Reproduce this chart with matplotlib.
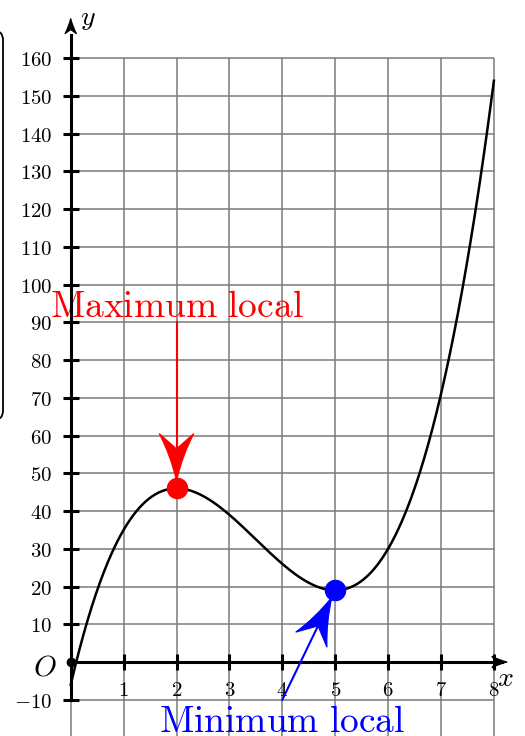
"""
Local maximum / minimum of a cubic, drawn on a squared grid
"""
import numpy as np
import matplotlib
matplotlib.use("Agg")
import matplotlib.pyplot as plt
from matplotlib.path import Path
from matplotlib.patches import PathPatch, FancyBboxPatch
from matplotlib.transforms import Affine2D

plt.rcParams["mathtext.fontset"] = "cm"

# values
CURVE_X = [0, 1, 2, 3, 4, 5, 6, 7, 8]
CURVE_Y = [-6, 35, 46, 39, 26, 19, 30, 71, 154]
X_TICKS = [1, 2, 3, 4, 5, 6, 7, 8]
Y_TICKS = [-10, 10, 20, 30, 40, 50, 60, 70, 80, 90, 100, 110, 120, 130,
           140, 150, 160]
GRID_X = [0, 1, 2, 3, 4, 5, 6, 7, 8]
GRID_Y = [-10, 0, 10, 20, 30, 40, 50, 60, 70, 80, 90, 100, 110, 120, 130,
          140, 150, 160]
MAX_POINT = (2, 46)
MIN_POINT = (5, 19)
MAX_LABEL = "Maximum local"
MIN_LABEL = "Minimum local"
MAX_FROM = (2, 90)
MIN_FROM = (4, -10)

GRID_COLOR = "#7a7a7a"


def stealth(ax, start, tip, color, length, half, notch, back=0.0):
    """draw a LaTeX stealth-like arrow head (sizes in points) at tip"""
    fig = ax.figure
    p0 = ax.transData.transform(start)
    p1 = ax.transData.transform(tip)
    ang = np.arctan2(p1[1] - p0[1], p1[0] - p0[0])
    verts = [(0, 0), (-0.55 * length, 0.35 * half), (-length, half),
             (-notch, 0), (-length, -half), (-0.55 * length, -0.35 * half),
             (0, 0), (0, 0)]
    codes = [Path.MOVETO, Path.CURVE3, Path.CURVE3, Path.LINETO,
             Path.LINETO, Path.CURVE3, Path.CURVE3, Path.CLOSEPOLY]
    trans = (Affine2D().translate(-back, 0).scale(fig.dpi / 72)
             .rotate(ang).translate(*p1))
    head = PathPatch(Path(verts, codes), transform=trans, facecolor=color,
                     edgecolor=color, lw=0.8, clip_on=False, zorder=4)
    ax.add_artist(head)


fig = plt.figure(figsize=(5.25, 7.36), dpi=100)
ax = fig.add_axes([0, 0, 1, 1])
ax.set_xlim(-1.337, 8.588)
ax.set_ylim(-19.6, 175.4)

# grid
ax.vlines(GRID_X, -25, GRID_Y[-1], color=GRID_COLOR, lw=1.1, zorder=1)
ax.hlines(GRID_Y, GRID_X[0], GRID_X[-1], color=GRID_COLOR, lw=1.1, zorder=1)

# axes through the origin
for side in ["top", "right"]:
    ax.spines[side].set_visible(False)
ax.spines["left"].set_position(("data", 0))
ax.spines["bottom"].set_position(("data", 0))
ax.spines["left"].set_bounds(-10, 166)
ax.spines["bottom"].set_bounds(0, 8.15)
for side in ["left", "bottom"]:
    ax.spines[side].set_linewidth(2.2)
    ax.spines[side].set_zorder(3)

ax.set_xticks(X_TICKS)
ax.set_yticks(Y_TICKS)
ax.set_xticklabels(["$%d$" % t for t in X_TICKS])
ax.set_yticklabels(["$%d$" % t for t in Y_TICKS])
ax.tick_params(direction="inout", length=11.5, width=2.2, labelsize=15)
ax.tick_params(axis="y", pad=7.5)
ax.tick_params(axis="x", pad=7)

stealth(ax, (0, 150), (0, 170.5), "black", 11, 4.2, 8)
stealth(ax, (7, 0), (8.25, 0), "black", 11, 4.2, 8)

ax.text(0.33, 170.6, "$y$", fontsize=20, ha="center", va="center")
ax.text(8.22, -4.2, "$x$", fontsize=20, ha="center", va="center")
ax.text(-0.26, -3.7, "$O$", fontsize=21, ha="right", va="baseline")
ax.plot(0, 0, "o", color="black", ms=6, zorder=5)

# the curve, cubic through the read points
coeffs = np.polyfit(CURVE_X, CURVE_Y, 3)
xx = np.linspace(CURVE_X[0], CURVE_X[-1], 400)
ax.plot(xx, np.polyval(coeffs, xx), color="black", lw=1.8, zorder=3)

# annotations
ax.plot([MAX_FROM[0], MAX_POINT[0]], [MAX_FROM[1], MAX_POINT[1]],
        color="red", lw=1.5, zorder=4)
stealth(ax, MAX_FROM, MAX_POINT, "red", 34, 12.5, 23, back=5.5)
ax.plot(*MAX_POINT, "o", color="red", ms=14.5, zorder=5)
ax.text(MAX_POINT[0], MAX_FROM[1] + 1.5, r"$\mathrm{Maximum\ local}$",
        color="red", fontsize=27, ha="center", va="baseline")

ax.plot([MIN_FROM[0], MIN_POINT[0]], [MIN_FROM[1], MIN_POINT[1]],
        color="blue", lw=1.5, zorder=4)
stealth(ax, MIN_FROM, MIN_POINT, "blue", 34, 12.5, 23, back=5.5)
ax.plot(*MIN_POINT, "o", color="blue", ms=14.5, zorder=5)
ax.text(MIN_FROM[0], -18.5, r"$\mathrm{Minimum\ local}$",
        color="blue", fontsize=27, ha="center", va="baseline")

# box cut by the left edge
box = FancyBboxPatch((-1.8, 64), 0.52, 103.4,
                     boxstyle="round,pad=0,rounding_size=0.19",
                     mutation_aspect=14, fill=False, ec="black", lw=1.3,
                     zorder=2)
ax.add_patch(box)

fig.savefig("out.png", dpi=100)
plt.close(fig)
